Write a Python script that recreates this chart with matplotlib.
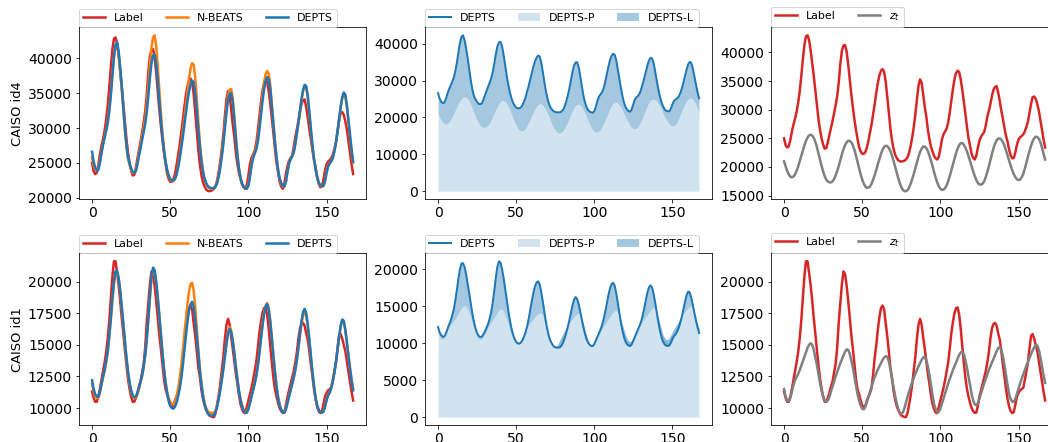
import matplotlib
matplotlib.use('Agg')
import matplotlib.pyplot as plt

# one week of hourly values
hours = list(range(168))

# CAISO id4 -- one row per day
label_id4 = [25000, 23800, 23400, 23600, 24700, 26200, 27400, 28400, 29600, 31200, 33200, 35800,
             38700, 41300, 42800, 43000, 42200, 40400, 38200, 35900, 33400, 30800, 28400, 26500,
             25000, 23900, 23200, 23300, 24300, 25600, 26800, 28000, 29400, 30800, 32400, 34800,
             38000, 40300, 41200, 41300, 40200, 38000, 35300, 32700, 30400, 28300, 26500, 24900,
             23500, 22700, 22300, 22300, 22600, 23400, 24600, 26000, 27500, 29200, 31000, 33000,
             34700, 36000, 36800, 37100, 36600, 34900, 32300, 29500, 26800, 24700, 23200, 22200,
             21600, 21200, 21000, 20950, 21000, 21100, 21300, 21700, 22500, 23700, 25200, 27000,
             29200, 31800, 34200, 35300, 34700, 32700, 30500, 28800, 26500, 24800, 23500, 22700,
             21900, 21500, 21300, 21800, 23200, 24800, 25700, 26200, 26700, 27800, 29500, 31600,
             33600, 35300, 36400, 36800, 36600, 35300, 33500, 31400, 29300, 27000, 25000, 23600,
             22300, 21600, 21300, 22000, 23400, 24600, 25300, 25700, 26100, 27200, 28700, 29800,
             31000, 32400, 33500, 34000, 34100, 33000, 31500, 29800, 28400, 26800, 25400, 24400,
             23000, 22000, 21500, 21600, 22600, 23900, 24800, 25200, 25400, 25700, 26200, 27000,
             27900, 29400, 31000, 32200, 32300, 31900, 31000, 29800, 28200, 26500, 24800, 23400]
nbeats_id4 = [25800, 24700, 24100, 24000, 24300, 25200, 26500, 27700, 28700, 29800, 31000, 32800,
              35000, 37800, 40300, 41700, 42000, 40600, 38200, 35500, 32600, 29700, 27300, 25600,
              24700, 24000, 23600, 23600, 24000, 25000, 26300, 27500, 28800, 30000, 31400, 33400,
              36000, 38900, 41500, 43000, 43300, 41800, 38900, 35500, 32200, 29400, 27100, 25300,
              24000, 23100, 22600, 22400, 22400, 22700, 23400, 24500, 25900, 27500, 29300, 31200,
              33200, 35200, 37100, 38600, 39300, 39100, 37200, 34200, 30800, 27800, 25500, 23800,
              22700, 22000, 21600, 21400, 21300, 21300, 21400, 21700, 22300, 23300, 24600, 26300,
              28300, 30600, 32900, 34700, 35500, 35600, 34200, 31600, 28800, 26200, 24200, 22800,
              22000, 21600, 21400, 21400, 21900, 23200, 24800, 25900, 26500, 27200, 28400, 30200,
              32400, 34600, 36500, 37700, 38200, 37800, 36200, 33500, 30700, 28100, 25800, 24000,
              22700, 22000, 21600, 21600, 22300, 23800, 25000, 25600, 26000, 26600, 27700, 29100,
              30600, 32300, 34000, 35300, 36000, 35800, 34400, 32100, 29600, 27300, 25400, 24000,
              22900, 22100, 21700, 21600, 21700, 22400, 23700, 24600, 25000, 25300, 25800, 26700,
              27900, 29500, 31200, 32900, 34200, 34800, 34500, 33000, 30900, 28700, 26700, 25000]
depts_id4 = [26600, 25200, 24300, 23900, 24000, 25000, 26400, 27600, 28600, 29600, 30700, 32400,
             34700, 37500, 40200, 41900, 42300, 41000, 38600, 36000, 33000, 30000, 27500, 25800,
             24900, 24200, 23700, 23600, 23800, 24800, 26000, 27100, 28300, 29400, 30600, 32300,
             34600, 37200, 39300, 40400, 40500, 39300, 36900, 34000, 31200, 28800, 26800, 25200,
             24000, 23200, 22700, 22500, 22500, 22700, 23300, 24300, 25500, 27000, 28600, 30300,
             32100, 33800, 35200, 36200, 36800, 36600, 35000, 32500, 29700, 27200, 25200, 23700,
             22700, 22100, 21700, 21500, 21400, 21400, 21400, 21600, 22100, 23000, 24300, 25900,
             27800, 30000, 32300, 34100, 34900, 35000, 33700, 31200, 28500, 26000, 24100, 22800,
             22000, 21600, 21400, 21300, 21700, 23000, 24600, 25700, 26300, 26900, 28000, 29700,
             31700, 33800, 35500, 36700, 37300, 37000, 35600, 33100, 30500, 28000, 25800, 24000,
             22800, 22100, 21700, 21600, 22300, 23700, 24900, 25500, 25900, 26500, 27700, 29200,
             30800, 32500, 34200, 35500, 36200, 36000, 34600, 32300, 29800, 27500, 25600, 24100,
             23000, 22200, 21800, 21700, 21700, 22400, 23600, 24500, 24900, 25200, 25700, 26600,
             27900, 29500, 31300, 33000, 34400, 35100, 34800, 33300, 31200, 29000, 26900, 25200]
zt_id4 = [21000, 20100, 19300, 18700, 18300, 18200, 18330, 18700, 19290, 20060, 20960, 21920,
          22880, 23780, 24540, 25140, 25510, 25640, 25500, 25100, 24400, 23500, 22400, 21300,
          20200, 19200, 18400, 17800, 17450, 17310, 17320, 17500, 17900, 18500, 19300, 20200,
          21200, 22200, 23100, 23800, 24300, 24580, 24550, 24300, 23800, 23000, 22000, 20900,
          19800, 18700, 17800, 17100, 16600, 16350, 16400, 16600, 17100, 17800, 18600, 19500,
          20500, 21400, 22300, 23000, 23500, 23700, 23650, 23300, 22800, 22000, 21100, 20100,
          19100, 18100, 17200, 16500, 16000, 15780, 15770, 15950, 16400, 17100, 17900, 18800,
          19800, 20800, 21800, 22600, 23200, 23550, 23580, 23300, 22800, 22000, 21100, 20100,
          19100, 18100, 17300, 16600, 16200, 16000, 16050, 16300, 16800, 17500, 18400, 19400,
          20400, 21400, 22400, 23200, 23800, 24150, 24180, 23900, 23400, 22700, 21900, 21000,
          20100, 19200, 18400, 17700, 17200, 16950, 16910, 17100, 17500, 18200, 19100, 20100,
          21200, 22300, 23300, 24100, 24650, 24950, 24980, 24800, 24350, 23700, 22900, 22000,
          21100, 20200, 19400, 18700, 18200, 17850, 17700, 17800, 18200, 18800, 19700, 20700,
          21800, 22800, 23700, 24500, 25000, 25280, 25250, 24900, 24300, 23400, 22300, 21300]

# CAISO id1
label_id1 = [11300, 10800, 10500, 10500, 10900, 11500, 12200, 12900, 13600, 14400, 15500, 16900,
             18600, 20400, 21600, 21600, 20700, 19700, 18500, 17100, 15900, 14600, 13400, 12300,
             11500, 10900, 10500, 10500, 10800, 11200, 11700, 12100, 12800, 13500, 14800, 16800,
             18300, 19800, 20800, 20600, 19700, 18500, 17200, 15800, 14700, 13500, 12300, 11500,
             11100, 10600, 10200, 10050, 10200, 10600, 10900, 11200, 11600, 12700, 14000, 15000,
             16200, 17200, 17900, 18100, 17800, 16700, 15700, 14500, 13200, 12400, 11400, 10700,
             10200, 9850, 9600, 9420, 9350, 9300, 9280, 9600, 10300, 11000, 11900, 13000,
             14100, 15500, 16600, 17050, 16600, 15600, 14700, 13700, 12700, 11900, 11000, 10300,
             9900, 9650, 9600, 10100, 10600, 11100, 11600, 12200, 12900, 13600, 14700, 15900,
             16800, 17500, 17900, 17950, 17400, 16300, 14900, 13600, 12400, 11500, 10900, 10400,
             10000, 9750, 9620, 9650, 10200, 10900, 11400, 11900, 12400, 12900, 13600, 14400,
             15500, 16300, 16650, 16730, 16500, 15900, 15400, 14500, 13400, 12500, 11500, 10700,
             10100, 9750, 9600, 9700, 10300, 10900, 11200, 11400, 11500, 11600, 12200, 12900,
             13600, 14700, 15700, 15850, 15500, 15000, 14500, 13700, 12900, 12100, 11300, 10600]
nbeats_id1 = [11900, 11300, 10900, 10800, 10800, 11200, 11800, 12400, 12900, 13600, 14400, 15600,
              17000, 18500, 19800, 20600, 20700, 20200, 19200, 17900, 16600, 15200, 13900, 12800,
              11900, 11300, 10900, 10800, 10800, 11100, 11500, 12000, 12500, 13200, 14100, 15400,
              17000, 18700, 20200, 20900, 20800, 19900, 18700, 17300, 15800, 14400, 13100, 12100,
              11300, 10800, 10500, 10300, 10300, 10500, 10900, 11500, 12300, 13300, 14500, 15800,
              17000, 18200, 19200, 19800, 19900, 19300, 18000, 16300, 14600, 13100, 11900, 11000,
              10400, 10000, 9750, 9650, 9630, 9620, 9620, 9800, 10200, 10800, 11500, 12300,
              13200, 14200, 15200, 16000, 16400, 16100, 15400, 14400, 13300, 12300, 11400, 10700,
              10200, 9850, 9700, 9700, 9950, 10450, 10950, 11450, 11950, 12550, 13350, 14400,
              15500, 16600, 17500, 18100, 18300, 17900, 16900, 15600, 14200, 12900, 11800, 10900,
              10300, 9900, 9750, 9700, 9950, 10450, 10950, 11450, 11900, 12400, 13000, 13800,
              14700, 15700, 16700, 17300, 17600, 17300, 16500, 15300, 14000, 12800, 11700, 10800,
              10200, 9850, 9700, 9650, 9750, 10150, 10650, 11050, 11250, 11650, 12150, 12800,
              13600, 14600, 15500, 16400, 16900, 16800, 16200, 15200, 14200, 13200, 12300, 11500]
depts_id1 = [12200, 11500, 11100, 10900, 10900, 11300, 11900, 12500, 13000, 13700, 14500, 15700,
             17100, 18700, 20000, 20800, 20850, 20300, 19300, 18000, 16700, 15300, 14000, 12900,
             12000, 11400, 11000, 10850, 10900, 11200, 11600, 12100, 12600, 13300, 14200, 15500,
             17100, 18900, 20400, 21100, 20900, 20000, 18800, 17300, 15800, 14400, 13100, 12000,
             11200, 10600, 10200, 10000, 9950, 10100, 10400, 10900, 11500, 12300, 13300, 14500,
             15700, 16800, 17700, 18200, 18400, 18000, 17000, 15700, 14300, 12900, 11800, 10900,
             10300, 9900, 9600, 9450, 9420, 9410, 9450, 9700, 10100, 10700, 11400, 12200,
             13100, 14100, 15100, 15900, 16250, 16000, 15300, 14300, 13200, 12200, 11300, 10600,
             10100, 9800, 9650, 9640, 9900, 10400, 10900, 11400, 11900, 12500, 13300, 14300,
             15400, 16500, 17400, 18000, 18200, 17800, 16800, 15500, 14100, 12800, 11700, 10800,
             10200, 9850, 9680, 9640, 9900, 10400, 10900, 11400, 11900, 12400, 13000, 13800,
             14800, 15900, 16900, 17600, 17840, 17500, 16600, 15400, 14100, 12800, 11700, 10800,
             10200, 9850, 9680, 9640, 9700, 10100, 10600, 11000, 11200, 11600, 12100, 12800,
             13600, 14600, 15600, 16500, 17000, 16900, 16200, 15200, 14100, 13100, 12200, 11400]
zt_id1 = [11500, 10900, 10600, 10550, 10800, 11300, 11800, 12200, 12450, 12700, 13000, 13350,
          13700, 14050, 14400, 14750, 15000, 15120, 15000, 14600, 14000, 13400, 12700, 12000,
          11400, 10900, 10600, 10500, 10600, 10900, 11300, 11700, 12100, 12500, 12850, 13200,
          13550, 13850, 14150, 14450, 14640, 14600, 14300, 13800, 13200, 12500, 11800, 11100,
          10600, 10200, 9950, 9900, 10100, 10500, 10900, 11300, 11700, 12100, 12450, 12750,
          13050, 13300, 13550, 13800, 14000, 14100, 14050, 13700, 13100, 12400, 11700, 11000,
          10400, 9950, 9650, 9550, 9650, 10000, 10450, 10900, 11300, 11700, 12050, 12400,
          12700, 13000, 13300, 13550, 13800, 14000, 14050, 13800, 13300, 12600, 11800, 11000,
          10300, 9900, 9700, 9700, 9950, 10350, 10750, 11150, 11550, 11950, 12300, 12650,
          13000, 13300, 13600, 13900, 14200, 14400, 14450, 14250, 13800, 13200, 12500, 11800,
          11100, 10600, 10300, 10220, 10400, 10750, 11150, 11550, 11950, 12300, 12650, 13000,
          13300, 13600, 13900, 14200, 14500, 14750, 14830, 14600, 14100, 13400, 12600, 11800,
          11100, 10700, 10500, 10500, 10750, 11150, 11550, 11950, 12300, 12650, 13000, 13350,
          13650, 13950, 14250, 14550, 14800, 15000, 14950, 14600, 14000, 13300, 12600, 12000]

rows = [('CAISO id4', label_id4, nbeats_id4, depts_id4, zt_id4),
        ('CAISO id1', label_id1, nbeats_id1, depts_id1, zt_id1)]

fig = plt.figure(figsize=(1048 / 72, 442 / 72), dpi=72)

lefts = [0.0754, 0.4055, 0.7357]
bottoms = [0.5498, 0.0385]
w, h = 0.274, 0.388

for r, (name, label, nbeats, depts, zt) in enumerate(rows):
    # forecasts vs label
    ax = fig.add_axes([lefts[0], bottoms[r], w, h])
    ax.plot(hours, label, color='tab:red', lw=2.5, label='Label')
    ax.plot(hours, nbeats, color='tab:orange', lw=2.5, label='N-BEATS')
    ax.plot(hours, depts, color='tab:blue', lw=2.5, label='DEPTS')
    ax.set_ylabel(name, fontsize=13)
    ax.legend(loc='lower left', bbox_to_anchor=(0, 1), ncol=3, fontsize=11, borderaxespad=0)
    ax.tick_params(labelsize=14)

    # decomposition of DEPTS
    ax = fig.add_axes([lefts[1], bottoms[r], w, h])
    ax.plot(hours, depts, color='tab:blue', lw=2, label='DEPTS')
    ax.fill_between(hours, 0, zt, color='tab:blue', alpha=0.2, lw=0, label='DEPTS-P')
    ax.fill_between(hours, zt, depts, color='tab:blue', alpha=0.4, lw=0, label='DEPTS-L')
    ax.legend(loc='lower left', bbox_to_anchor=(0, 1), ncol=3, fontsize=11, borderaxespad=0)
    ax.tick_params(labelsize=14)

    # label vs periodic state
    ax = fig.add_axes([lefts[2], bottoms[r], w, h])
    ax.plot(hours, label, color='tab:red', lw=2.5, label='Label')
    ax.plot(hours, zt, color='gray', lw=2.5, label='$z_t$')
    ax.legend(loc='lower left', bbox_to_anchor=(0, 1), ncol=2, fontsize=11, borderaxespad=0)
    ax.tick_params(labelsize=14)

plt.savefig('out.png', dpi=72)
plt.close()
